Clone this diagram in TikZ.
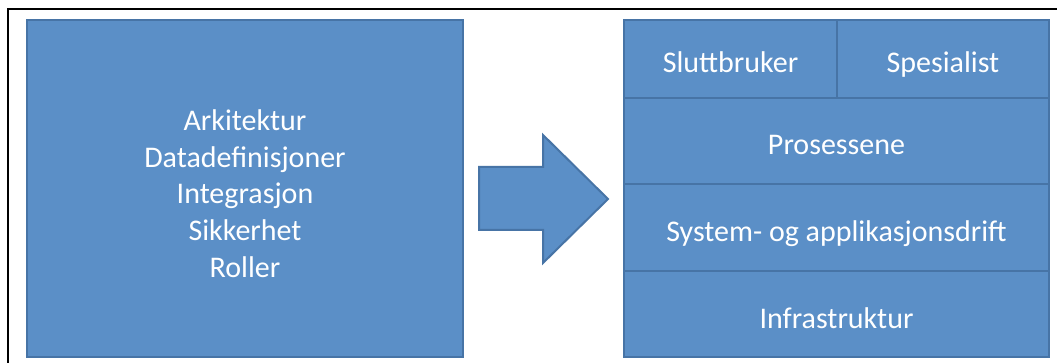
\documentclass[tikz,border=0pt]{standalone}
\usepackage{fontspec}
\setmainfont{Carlito}
\definecolor{boxfill}{HTML}{5B8FC7}
\definecolor{boxline}{HTML}{4774A6}
\begin{document}
\begin{tikzpicture}[x=1pt,y=-1pt,
  blk/.style={draw=boxline,line width=2pt,fill=boxfill,text=white,inner sep=0pt,
    font=\fontsize{30}{36.6}\selectfont,align=center},
  cell/.style={blk,text height=30pt,text depth=2pt},
  txt/.style={text=white,inner sep=0pt,font=\fontsize{30}{36.6}\selectfont,align=center}]
\useasboundingbox (0,0) rectangle (1057,363);
\fill[white] (0,0) rectangle (1057,363);
\begin{scope}
\clip (0,0) rectangle (1057,363);
\draw[line width=2pt,black] (8,9) rectangle (1070,380);
\end{scope}
\node[blk,minimum width=436pt,minimum height=337pt,
  label={[txt,yshift=-5pt]center:{Arkitektur\\Datadefinisjoner\\Integrasjon\\Sikkerhet\\Roller}}]
  (left) at (245,188.5) {};
\draw[boxline,line width=2pt,fill=boxfill,line join=miter]
  (479,167) -- (543,167) -- (543,135) -- (608,199) -- (543,263) -- (543,230) -- (479,230) -- cycle;
\node[cell,minimum width=213pt,minimum height=78pt] (slutt) at (730.5,59) {Sluttbruker};
\node[cell,minimum width=212pt,minimum height=78pt] (spes) at (943,59) {Spesialist};
\node[cell,minimum width=425pt,minimum height=86pt] (pros) at (836.5,141) {Prosessene};
\node[cell,minimum width=425pt,minimum height=87pt] (sys) at (836.5,227.5) {System- og applikasjonsdrift};
\node[cell,minimum width=425pt,minimum height=86pt] (infra) at (836.5,314) {Infrastruktur};
\end{tikzpicture}
\end{document}
